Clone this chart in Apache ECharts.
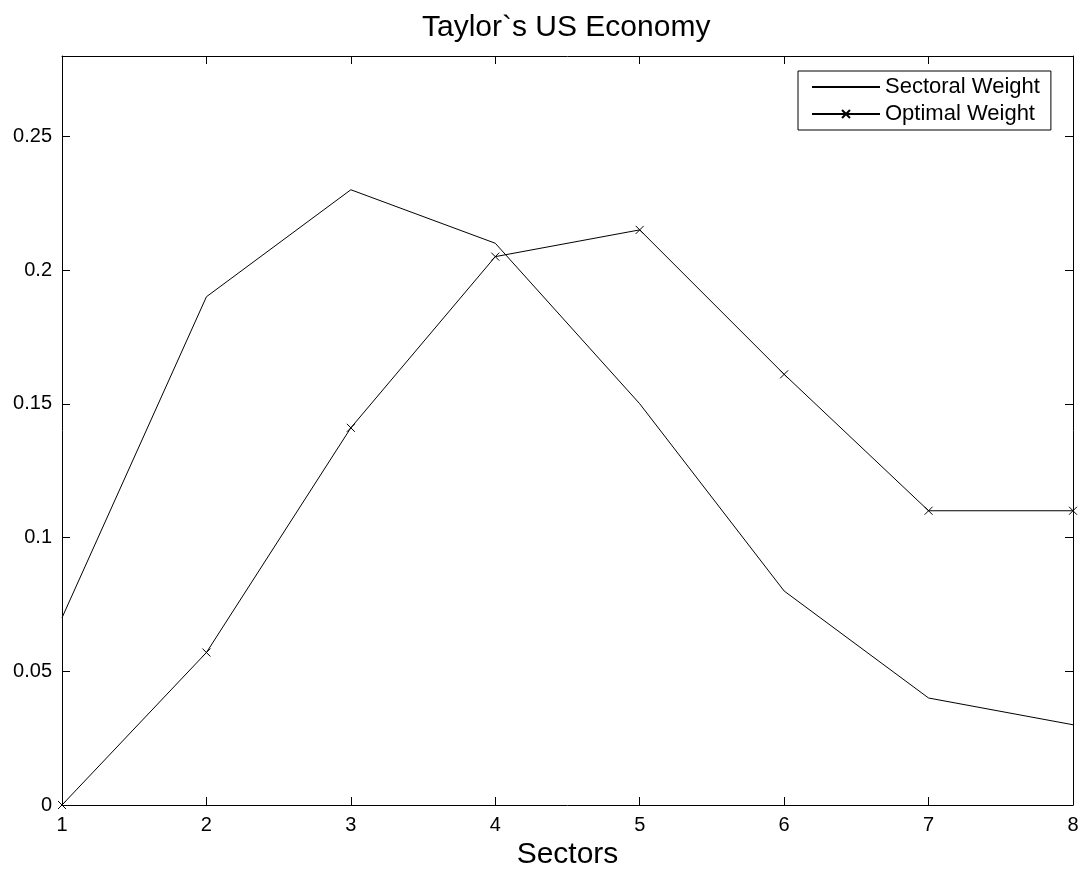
<!DOCTYPE html>
<html>
<head>
<meta charset="utf-8">
<script src="https://cdn.jsdelivr.net/npm/echarts@6/dist/echarts.min.js"></script>
<style>html,body{margin:0;padding:0;background:#fff;}#c{width:1086px;height:870px;}</style>
</head>
<body>
<div id="c"></div>
<script>
const sectors = [1, 2, 3, 4, 5, 6, 7, 8];
const sectoralWeight = [0.07, 0.19, 0.23, 0.21, 0.15, 0.08, 0.04, 0.03];
const optimalWeight = [0.0, 0.057, 0.141, 0.205, 0.215, 0.161, 0.11, 0.11];
const seriesNames = ['Sectoral Weight', 'Optimal Weight'];

const chart = echarts.init(document.getElementById('c'));
const font = '"Liberation Sans", Arial, sans-serif';
const crossPath = 'path://M0,0L10,10M10,0L0,10';
const axisCommon = {
  axisLine: {show: true, onZero: false, lineStyle: {color: '#000', width: 1}},
  axisTick: {show: true, inside: true, length: 8, lineStyle: {color: '#000'}},
  splitLine: {show: false}
};
chart.setOption({
  animation: false,
  backgroundColor: '#fff',
  title: {
    text: 'Taylor`s US Economy', left: 417, top: 8,
    textStyle: {fontFamily: font, fontSize: 30, fontWeight: 'normal', color: '#000'}
  },
  legend: {
    orient: 'vertical', left: 798, top: 71,
    backgroundColor: '#fff', borderColor: '#000', borderWidth: 1,
    padding: [5, 11, 5, 13], itemGap: 5, itemWidth: 68, itemHeight: 10,
    textStyle: {fontFamily: font, fontSize: 22, color: '#000'},
    data: [
      {name: seriesNames[0], itemStyle: {opacity: 0}},
      {name: seriesNames[1]}
    ]
  },
  grid: {left: 62, right: 13, top: 56, bottom: 65, outerBoundsMode: 'none', containLabel: false},
  xAxis: [
    Object.assign({
      type: 'value', min: 1, max: 8, interval: 1,
      name: 'Sectors', nameLocation: 'middle', nameGap: 30,
      nameTextStyle: {fontFamily: font, fontSize: 30, color: '#000', verticalAlign: 'top'},
      axisLabel: {fontFamily: font, fontSize: 20, color: '#000', margin: 10}
    }, axisCommon),
    Object.assign({
      type: 'value', min: 1, max: 8, interval: 1, position: 'top',
      axisLabel: {show: false}
    }, axisCommon)
  ],
  yAxis: [
    Object.assign({
      type: 'value', min: 0, max: 0.28, interval: 0.05,
      axisLabel: {fontFamily: font, fontSize: 20, color: '#000', margin: 10, showMaxLabel: false,
        formatter: v => String(Math.round(v * 100) / 100)}
    }, axisCommon),
    Object.assign({
      type: 'value', min: 0, max: 0.28, interval: 0.05, position: 'right',
      axisLabel: {show: false}
    }, axisCommon)
  ],
  series: [
    {
      name: seriesNames[0], type: 'line', xAxisIndex: 0, yAxisIndex: 0,
      data: sectors.map((s, i) => [s, sectoralWeight[i]]),
      symbol: 'none', lineStyle: {color: '#000', width: 1}, itemStyle: {color: '#000'}
    },
    {
      name: seriesNames[1], type: 'line', xAxisIndex: 0, yAxisIndex: 0,
      data: sectors.map((s, i) => [s, optimalWeight[i]]),
      symbol: crossPath, symbolSize: 8, showSymbol: true,
      lineStyle: {color: '#000', width: 1},
      itemStyle: {color: 'rgba(0,0,0,0)', borderColor: '#000', borderWidth: 1}
    }
  ]
});
</script>
</body>
</html>
